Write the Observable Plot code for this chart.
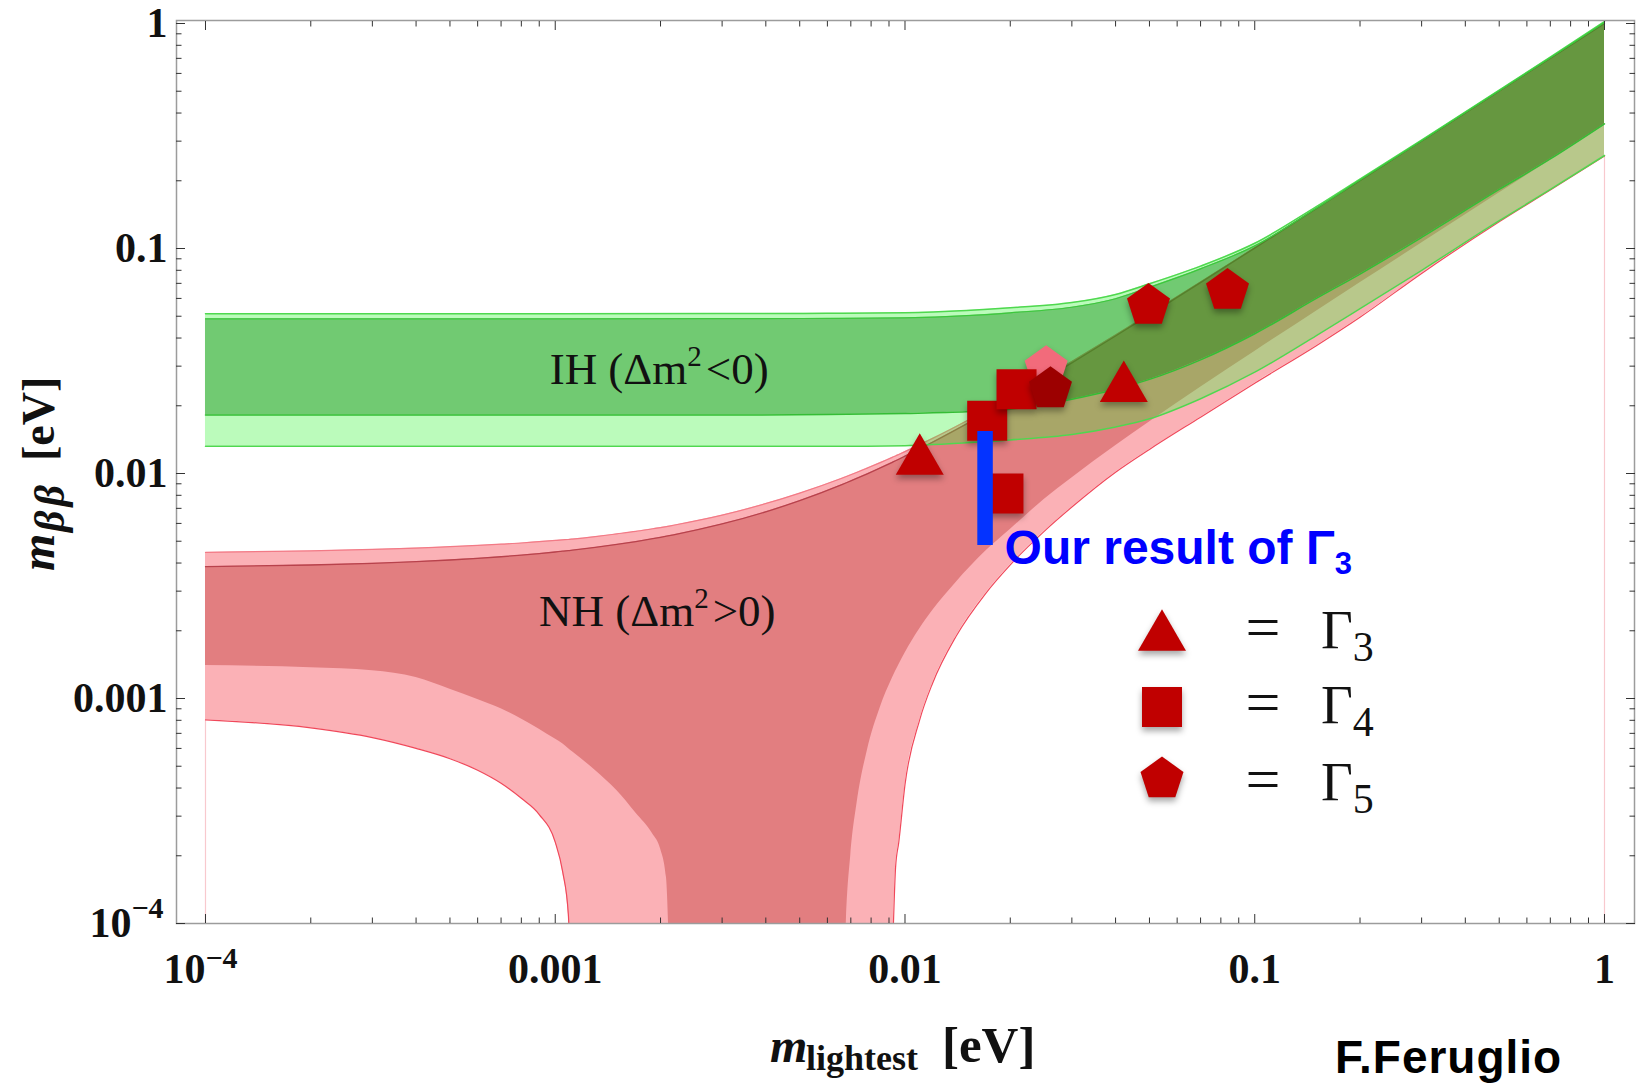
<!DOCTYPE html>
<html>
<head>
<meta charset="utf-8">
<script src="https://cdn.jsdelivr.net/npm/d3@7"></script>
<script src="https://cdn.jsdelivr.net/npm/@observablehq/plot@0.6"></script>
<style>
  html, body { margin: 0; padding: 0; background: #fff; }
  #chart { position: relative; width: 1642px; height: 1083px; }
  svg g[aria-label="dot"] path, .legend-mark { filter: drop-shadow(0px 4px 3px rgba(0,0,0,0.35)); }
</style>
</head>
<body>
<div id="chart"></div>
<script>
// ---------------- data ----------------
// Normal hierarchy (NH) band: common x grid (m_lightest, eV)
const nhX = [1e-4, 2e-4, 3e-4, 4e-4, 5e-4, 6e-4, 7e-4, 8e-4, 9e-4, 1e-3, 1.05e-3, 1.09e-3, 1.12e-3,
  1.3e-3, 1.5e-3, 1.7e-3, 1.9e-3, 2.0e-3, 2.08e-3, 2.18e-3, 3e-3, 5e-3, 6.6e-3, 6.8e-3, 7e-3, 7.3e-3,
  7.8e-3, 8.5e-3, 9.2e-3, 9.4e-3, 9.6e-3, 1e-2, 1.1e-2, 1.2e-2, 1.4e-2, 1.7e-2, 2e-2, 2.5e-2, 3e-2,
  4e-2, 5e-2, 7e-2, 0.1, 0.15, 0.2, 0.3, 0.5, 0.7, 1];
const nhOuterTop = [0.00446, 0.00453, 0.00460, 0.00466, 0.00473, 0.00479, 0.00485, 0.00491, 0.00498,
  0.00504, 0.00507, 0.00509, 0.00511, 0.00524, 0.00539, 0.00553, 0.00568, 0.00575, 0.00581, 0.00589,
  0.00653, 0.00818, 0.00953, 0.00970, 0.00987, 0.01013, 0.01057, 0.01118, 0.0118, 0.01197, 0.01215,
  0.01251, 0.01342, 0.01433, 0.01619, 0.01901, 0.02193, 0.02664, 0.03147, 0.04125, 0.05111, 0.07089,
  0.1007, 0.1505, 0.2005, 0.3005, 0.5005, 0.7005, 1.0005];
const nhDarkTop = [0.003854, 0.00392, 0.003989, 0.004058, 0.004127, 0.004197, 0.004266, 0.004336,
  0.004408, 0.004478, 0.004514, 0.004542, 0.004563, 0.004692, 0.004838, 0.004984, 0.005131, 0.005206,
  0.005266, 0.005340, 0.005965, 0.007571, 0.008923, 0.009095, 0.009268, 0.00953, 0.009967, 0.010586,
  0.011213, 0.011392, 0.011573, 0.011939, 0.012853, 0.013776, 0.015659, 0.01849, 0.021414, 0.026165,
  0.031034, 0.040843, 0.050709, 0.070536, 0.100389, 0.150262, 0.2002, 0.300134, 0.500081, 0.70004, 1.00004];
// 1e-6 marks "below the bottom of the plot" (m_bb -> 0)
const nhDarkBottom = [0.0014, 0.00137, 0.00133, 0.00124, 0.00110, 0.00099, 0.00090, 0.00081, 0.00073,
  0.00066, 0.00063, 0.00060, 0.00058, 0.00048, 0.00039, 0.00031, 0.00025, 0.000215, 0.00016, 0.00002,
  1e-6, 1e-6, 0.00002, 0.000104, 0.000202, 0.000346, 0.000585, 0.000912, 0.00123, 0.00132, 0.00141,
  0.00159, 0.00203, 0.00246, 0.00328, 0.00451, 0.00564, 0.00766, 0.00955, 0.01327, 0.01693, 0.02416,
  0.03489, 0.05266, 0.07036, 0.10571, 0.17632, 0.24692, 0.35276];
const nhOuterBottom = [0.000804, 0.00074, 0.00067, 0.00060, 0.00054, 0.00048, 0.00042, 0.00036, 0.000305,
  0.00023, 0.00017, 0.00011, 0.00003, 1e-6, 1e-6, 1e-6, 1e-6, 1e-6, 1e-6, 1e-6, 1e-6, 1e-6, 1e-6, 1e-6,
  1e-6, 1e-6, 1e-6, 1e-6, 0.00007, 0.000178, 0.00023, 0.000414, 0.000798, 0.001173, 0.001892, 0.002928,
  0.003927, 0.005534, 0.007094, 0.010131, 0.0128, 0.0178, 0.0252, 0.037, 0.0495, 0.0775, 0.1315, 0.182, 0.258];

// Inverted hierarchy (IH) band
const ihX = [1e-4, 1e-3, 3e-3, 6e-3, 0.01, 0.015, 0.02, 0.03, 0.04, 0.05, 0.07, 0.1, 0.15, 0.2, 0.3, 0.5, 0.7, 1];
const ihOuterTop = [0.0513, 0.0513, 0.0514, 0.0515, 0.0518, 0.053, 0.0545, 0.0575, 0.0625, 0.0697, 0.0835,
  0.1055, 0.1535, 0.2035, 0.3035, 0.5055, 0.709, 1.02];
const ihDarkTop = [0.0487, 0.0487, 0.0488, 0.0489, 0.0492, 0.0503, 0.0518, 0.0548, 0.0598, 0.0672, 0.0812,
  0.1027, 0.151, 0.2015, 0.3015, 0.5025, 0.7035, 1.01];
const ihDarkBottom = [0.0182, 0.0182, 0.0182, 0.0183, 0.0185, 0.0188, 0.0193, 0.0214, 0.0237, 0.0262, 0.032,
  0.0418, 0.06, 0.077, 0.112, 0.183, 0.25, 0.358];
const ihOuterBottom = [0.0132, 0.0132, 0.0132, 0.0132, 0.0133, 0.0137, 0.0141, 0.0149, 0.0161, 0.0175, 0.0215,
  0.0282, 0.041, 0.054, 0.08, 0.133, 0.183, 0.259];

// model points
const gamma3X = [0.01102, 0.04223];
const gamma3Y = [0.01138, 0.02393];
const gamma4X = [0.01718, 0.02084, 0.01912];
const gamma4Y = [0.01715, 0.02369, 0.00815];
const gamma5X = [0.02533, 0.02606, 0.04969, 0.08359];
const gamma5Y = [0.0295, 0.02378, 0.0558, 0.06506];

// our result (vertical segment)
const resultX = 0.01694;
const resultLow = 0.00479;
const resultHigh = 0.01537;

// region labels (left start, baseline)
const regionNames = ["IH", "NH"];
const regionRel = ["<", ">"];
const regionLabelX = [9.67e-4, 9.02e-4];
const regionLabelY = [0.02486, 0.00209];

// axes
const xMajorTicks = [1e-4, 1e-3, 1e-2, 1e-1, 1];
const xTickLabels = ["10", "0.001", "0.01", "0.1", "1"];
const yMajorTicks = [1e-4, 1e-3, 1e-2, 1e-1, 1];
const yTickLabels = ["10", "0.001", "0.01", "0.1", "1"];
const expText = "\u22124";
const minorTicks = [];
for (let e = -4; e < 0; e++) for (let k = 2; k <= 9; k++) minorTicks.push(+(k * Math.pow(10, e)).toPrecision(3));

const legendNames = ["3", "4", "5"];

// ---------------- tables ----------------
const nhTable = nhX.map((x, i) => ({x, outerHi: nhOuterTop[i], darkHi: nhDarkTop[i], darkLo: nhDarkBottom[i], outerLo: nhOuterBottom[i]}));
const ihTable = ihX.map((x, i) => ({x, outerHi: ihOuterTop[i], darkHi: ihDarkTop[i], darkLo: ihDarkBottom[i], outerLo: ihOuterBottom[i]}));
const g3 = gamma3X.map((x, i) => ({x, y: gamma3Y[i]}));
const g4 = gamma4X.map((x, i) => ({x, y: gamma4Y[i]}));
const g5 = gamma5X.map((x, i) => ({x, y: gamma5Y[i]}));

// ---------------- symbols ----------------
const triangleShape = {draw(ctx, size) { const r = Math.sqrt(size / Math.PI); const h = r * Math.sqrt(3) / 2;
  ctx.moveTo(0, -r); ctx.lineTo(h, r / 2); ctx.lineTo(-h, r / 2); ctx.closePath(); }};
const squareShape = {draw(ctx, size) { const r = Math.sqrt(size / Math.PI); const h = r / Math.SQRT2;
  ctx.moveTo(-h, -h); ctx.lineTo(h, -h); ctx.lineTo(h, h); ctx.lineTo(-h, h); ctx.closePath(); }};
const pentagonShape = {draw(ctx, size) { const r = Math.sqrt(size / Math.PI);
  for (let k = 0; k < 5; k++) { const a = -Math.PI / 2 + k * 2 * Math.PI / 5; const px = r * Math.cos(a), py = r * Math.sin(a);
    if (k) ctx.lineTo(px, py); else ctx.moveTo(px, py); } ctx.closePath(); }};

const serif = "'Liberation Serif', 'Times New Roman', Times, serif";
const sans = "'Liberation Sans', Arial, Helvetica, sans-serif";
const red = "#c00000";
const tickStyle = {fontFamily: serif, fontWeight: "bold", fontSize: 42, fill: "#111"};

const plot = Plot.plot({
  width: 1642, height: 1083,
  marginLeft: 176, marginRight: 8, marginTop: 20, marginBottom: 160,
  style: {background: "white", overflow: "visible"},
  x: {type: "log", domain: [8.2623e-5, 1.2184]},
  y: {type: "log", domain: [1e-4, 1.0312]},
  marks: [
    Plot.ruleX([1e-4], {y1: 1e-4, y2: nhOuterBottom[0], stroke: "#f8c9ce", strokeWidth: 1.2}),
    Plot.ruleX([1], {y1: 1e-4, y2: ihOuterBottom[ihOuterBottom.length - 1], stroke: "#f8c9ce", strokeWidth: 1.2}),
    Plot.areaY(nhTable, {x: "x", y1: "outerLo", y2: "outerHi", fill: "#fbb1b6", curve: "monotone-x", clip: true}),
    Plot.areaY(nhTable, {x: "x", y1: "darkLo", y2: "darkHi", fill: "#e27e80", curve: "monotone-x", clip: true}),
    Plot.line(nhTable, {x: "x", y: "outerLo", stroke: "#f0485a", strokeWidth: 1.2, curve: "monotone-x", clip: true}),
    Plot.line(nhTable, {x: "x", y: "outerHi", stroke: "#f27a86", strokeWidth: 1.2, curve: "monotone-x", clip: true}),
    Plot.line(nhTable, {x: "x", y: "darkHi", stroke: "#b8424c", strokeWidth: 1.3, curve: "monotone-x", clip: true}),
    Plot.areaY(ihTable, {x: "x", y1: "outerLo", y2: "outerHi", fill: "rgb(58,243,58)", fillOpacity: 0.345, curve: "monotone-x", clip: true}),
    Plot.areaY(ihTable, {x: "x", y1: "darkLo", y2: "darkHi", fill: "rgb(2,131,5)", fillOpacity: 0.4, curve: "monotone-x", clip: true}),
    Plot.line(ihTable, {x: "x", y: "outerHi", stroke: "#4fd84f", strokeWidth: 1.5, curve: "monotone-x", clip: true}),
    Plot.line(ihTable, {x: "x", y: "outerLo", stroke: "#4fd84f", strokeWidth: 1.5, curve: "monotone-x", clip: true}),
    Plot.line(ihTable, {x: "x", y: "darkLo", stroke: "#35bd35", strokeWidth: 1.5, curve: "monotone-x", clip: true}),
    Plot.line(ihTable, {x: "x", y: "darkHi", stroke: "#3cc83c", strokeWidth: 1.2, curve: "monotone-x", clip: true}),
    Plot.frame({stroke: "#9c9c9c", strokeWidth: 1.5}),
    // inward ticks, all four sides
    Plot.axisX(xMajorTicks, {anchor: "bottom", tickSize: -9, tickFormat: () => "", label: null, stroke: "#333"}),
    Plot.axisX(minorTicks, {anchor: "bottom", tickSize: -5.5, tickFormat: () => "", label: null, stroke: "#333"}),
    Plot.axisX(xMajorTicks, {anchor: "top", tickSize: -9, tickFormat: () => "", label: null, stroke: "#333"}),
    Plot.axisX(minorTicks, {anchor: "top", tickSize: -5.5, tickFormat: () => "", label: null, stroke: "#333"}),
    Plot.axisY(yMajorTicks, {anchor: "left", tickSize: -9, tickFormat: () => "", label: null, stroke: "#333"}),
    Plot.axisY(minorTicks, {anchor: "left", tickSize: -5.5, tickFormat: () => "", label: null, stroke: "#333"}),
    Plot.axisY(yMajorTicks, {anchor: "right", tickSize: -9, tickFormat: () => "", label: null, stroke: "#333"}),
    Plot.axisY(minorTicks, {anchor: "right", tickSize: -5.5, tickFormat: () => "", label: null, stroke: "#333"}),
    // tick labels
    Plot.text(xMajorTicks.slice(1), {x: (d) => d, text: (d, i) => xTickLabels[i + 1], frameAnchor: "bottom", dy: 59, ...tickStyle}),
    Plot.text(xMajorTicks.slice(0, 1), {x: (d) => d, text: () => xTickLabels[0], frameAnchor: "bottom", dy: 59, dx: 0, textAnchor: "end", ...tickStyle}),
    Plot.text(xMajorTicks.slice(0, 1), {x: (d) => d, text: () => expText, frameAnchor: "bottom", dy: 44, dx: 0, textAnchor: "start", ...tickStyle, fontSize: 30}),
    Plot.text(yMajorTicks.slice(1), {y: (d) => d, text: (d, i) => yTickLabels[i + 1], frameAnchor: "left", dx: -9, textAnchor: "end", ...tickStyle}),
    Plot.text(yMajorTicks.slice(0, 1), {y: (d) => d, text: () => yTickLabels[0], frameAnchor: "left", dx: -45, textAnchor: "end", ...tickStyle}),
    Plot.text(yMajorTicks.slice(0, 1), {y: (d) => d, text: () => expText, frameAnchor: "left", dx: -45, dy: -15, textAnchor: "start", ...tickStyle, fontSize: 30}),
    // model points
    Plot.dot(g5.slice(0, 1), {x: "x", y: "y", symbol: pentagonShape, r: 22.6, fill: "#f26b7b"}),
    Plot.dot(g4, {x: "x", y: "y", symbol: squareShape, r: 28.3, fill: red}),
    Plot.dot(g3, {x: "x", y: "y", symbol: triangleShape, r: 27.7, fill: red}),
    Plot.dot(g5.slice(1, 2), {x: "x", y: "y", symbol: pentagonShape, r: 22.6, fill: "#9c0000"}),
    Plot.dot(g5.slice(2), {x: "x", y: "y", symbol: pentagonShape, r: 22.6, fill: red}),
    // our result
    Plot.ruleX([resultX], {y1: resultLow, y2: resultHigh, stroke: "#0433ff", strokeWidth: 15.5})
  ]
});

document.getElementById("chart").appendChild(plot);

// ---------------- annotations placed through the plot's scales ----------------
const svg = d3.select(plot);
const sx = plot.scale("x"), sy = plot.scale("y");
const X = (v) => sx.apply(v), Y = (v) => sy.apply(v);

// region labels
regionNames.forEach((name, i) => {
  const t = svg.append("text").attr("x", X(regionLabelX[i])).attr("y", Y(regionLabelY[i])).attr("text-anchor", "start")
    .attr("font-family", serif).attr("font-size", 45).attr("fill", "#111");
  t.append("tspan").text(name + " (\u0394m");
  t.append("tspan").attr("dy", -18).attr("font-size", 29).text("2");
  t.append("tspan").attr("dy", 18).attr("font-size", 45).attr("dx", 4).text(regionRel[i] + "0)");
});

// result annotation
{
  const t = svg.append("text").attr("x", X(resultX) + 20).attr("y", Y(resultLow) + 19).attr("text-anchor", "start")
    .attr("font-family", sans).attr("font-weight", "bold").attr("font-size", 48).attr("fill", "#0000ff");
  t.append("tspan").text("Our result of \u0393");
  t.append("tspan").attr("dy", 10).attr("font-size", 31).text("3");
}

// axis titles
{
  const g = svg.append("g").attr("font-family", serif).attr("font-weight", "bold").attr("fill", "#111").attr("text-anchor", "start");
  g.append("text").attr("x", 770).attr("y", 1062).attr("font-style", "italic").attr("font-size", 48).text("m");
  g.append("text").attr("x", 806).attr("y", 1070).attr("font-size", 36).text("lightest");
  g.append("text").attr("x", 942).attr("y", 1062).attr("font-size", 51).text("[eV]");

  const gy = svg.append("g").attr("transform", "translate(54,571) rotate(-90)").attr("text-anchor", "start")
    .attr("font-family", serif).attr("font-weight", "bold").attr("fill", "#111");
  gy.append("text").attr("x", 0).attr("y", 0).attr("font-style", "italic").attr("font-size", 48).text("m");
  gy.append("text").attr("x", 39).attr("y", 10).attr("font-style", "italic").attr("font-size", 42)
    .attr("letter-spacing", 4).text("\u03b2\u03b2");
  gy.append("text").attr("x", 110).attr("y", 0).attr("font-size", 46).text("[eV]");
}

// credit
svg.append("text").attr("x", 1335).attr("y", 1073).attr("text-anchor", "start").attr("font-family", sans).attr("font-weight", "bold")
  .attr("font-size", 46).attr("letter-spacing", 1).attr("fill", "#000").text("F.Feruglio");

// legend
{
  const shapes = [triangleShape, squareShape, pentagonShape];
  const radii = [27.7, 28.3, 22.6];
  const markY = [637, 707, 779];
  const baseY = [648, 723, 800];
  const lg = svg.append("g").attr("text-anchor", "start");
  shapes.forEach((s, i) => {
    const p = d3.path(); s.draw(p, radii[i] * radii[i] * Math.PI);
    lg.append("path").attr("class", "legend-mark").attr("transform", `translate(1162,${markY[i]})`).attr("d", p.toString()).attr("fill", red);
    lg.append("text").attr("x", 1263).attr("y", baseY[i]).attr("text-anchor", "middle").attr("font-family", serif)
      .attr("font-size", 62).attr("fill", "#111").text("=");
    const t = lg.append("text").attr("x", 1321).attr("y", baseY[i]).attr("font-family", serif).attr("font-size", 55).attr("fill", "#111");
    t.append("tspan").text("\u0393");
    t.append("tspan").attr("dy", 13).attr("font-size", 42).text(legendNames[i]);
  });
}
</script>
</body>
</html>
